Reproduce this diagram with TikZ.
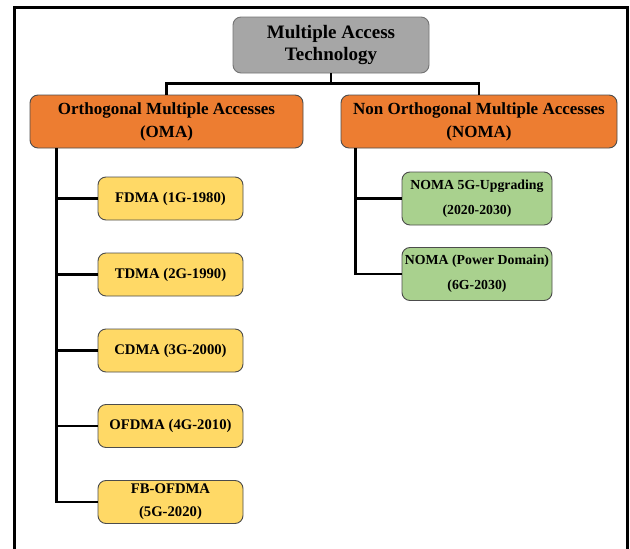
\documentclass[tikz,border=0pt]{standalone}
\usepackage{fontspec}
\setmainfont{Liberation Serif}
\definecolor{rootgray}{HTML}{A6A6A6}
\definecolor{omaorange}{HTML}{ED7D31}
\definecolor{genyellow}{HTML}{FFD966}
\definecolor{nomagreen}{HTML}{A9D18E}
\tikzset{
  box/.style={draw=black!70, line width=0.9pt, rounded corners=8pt,
    align=center, inner sep=0pt},
  rootbox/.style={box, fill=rootgray, draw=black!55, minimum width=196pt,
    minimum height=56pt, font=\fontsize{19}{22}\selectfont\bfseries},
  familybox/.style={box, fill=omaorange, minimum height=53pt,
    font=\fontsize{17}{23}\selectfont\bfseries},
  genbox/.style={box, fill=genyellow, minimum width=145pt, minimum height=43pt,
    font=\fontsize{14.7}{23}\selectfont\bfseries},
  nomabox/.style={box, fill=nomagreen, minimum width=150pt, minimum height=53pt,
    font=\fontsize{13.8}{25}\selectfont\bfseries},
  link/.style={line width=2.2pt, black}
}
\def\branch#1#2{%
  \draw[link] (#1) |- (#2.west);
}

\begin{document}
\begin{tikzpicture}[x=1pt,y=-1pt]
\useasboundingbox (0,0) rectangle (630,549);
\draw[line width=3pt] (14,549) -- (14,7) -- (627,7) -- (627,549);
\draw (331,45) node[rootbox] (root) {Multiple Access\\Technology};
\draw (166.5,121.5) node[familybox, minimum width=273pt] (oma)
  {Orthogonal Multiple Accesses\\(OMA)};
\draw (479,121.5) node[familybox, minimum width=276pt] (noma)
  {Non Orthogonal Multiple Accesses\\(NOMA)};
\draw[link] (root.south) -- ++(0,10) -| (oma.north);
\draw[link] (root.south) -- ++(0,10) -| (noma.north);
% OMA generations
\draw (170.5,198.5) node[genbox] (fdma) {FDMA (1G-1980)};
\draw (170.5,274.5) node[genbox] (tdma) {TDMA (2G-1990)};
\draw (170.5,350.5) node[genbox] (cdma) {CDMA (3G-2000)};
\draw (170.5,426) node[genbox] (ofdma) {OFDMA (4G-2010)};
\draw (170.5,502) node[genbox] (fbofdma) {FB-OFDMA\\(5G-2020)};
\coordinate (omaT) at ([xshift=27pt]oma.south west);
\branch{omaT}{fdma} \branch{omaT}{tdma} \branch{omaT}{cdma}
\branch{omaT}{ofdma} \branch{omaT}{fbofdma}
% NOMA
\draw (477,198.5) node[nomabox] (noma5g) {NOMA 5G-Upgrading\\(2020-2030)};
\draw (477,274) node[nomabox] (noma6g) {NOMA (Power Domain)\\(6G-2030)};
\coordinate (nomaT) at ([xshift=15pt]noma.south west);
\branch{nomaT}{noma5g} \branch{nomaT}{noma6g}
\end{tikzpicture}
\end{document}
